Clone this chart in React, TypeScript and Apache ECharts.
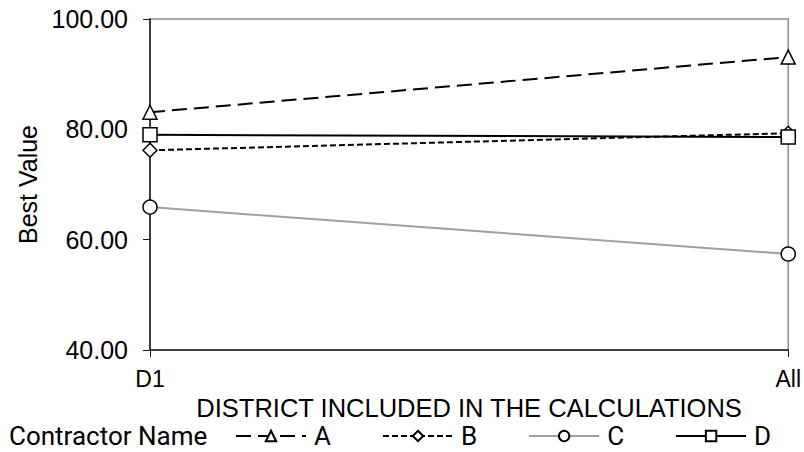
import React, { useEffect, useRef } from "react";
import * as echarts from "echarts";

// District options on the category axis
const districts = ["D1", "All"];

// Best value per contractor for each district option
const contractorA = [83.1, 93.1];
const contractorB = [76.2, 79.3];
const contractorC = [65.9, 57.4];
const contractorD = [79.0, 78.6];

const contractorNames = ["A", "B", "C", "D"];

const yMin = 40;
const yMax = 100;
const yStep = 20;

const AXIS_FONT = "'Liberation Sans', Arial, sans-serif";
const LEGEND_FONT = "Roboto, 'Noto Sans', sans-serif";

export default function App() {
  const ref = useRef<HTMLDivElement>(null);

  useEffect(() => {
    if (!ref.current) return;
    const chart = echarts.init(ref.current, undefined, { renderer: "svg" });

    const marker = {
      color: "#ffffff",
      borderColor: "#000000",
      borderWidth: 1.5,
    };

    const seriesData = [contractorA, contractorB, contractorC, contractorD];
    const symbols = ["triangle", "diamond", "circle", "rect"];
    const lineStyles: any[] = [
      { color: "#000000", width: 2, type: [15, 7] },
      { color: "#000000", width: 2, type: [6, 3] },
      { color: "#a0a0a0", width: 2, type: "solid" },
      { color: "#000000", width: 2, type: "solid" },
    ];

    chart.setOption({
      animation: false,
      backgroundColor: "#ffffff",
      grid: {
        left: 150,
        right: 14,
        top: 19,
        bottom: 102,
        show: true,
        borderColor: "#8c8c8c",
        borderWidth: 1.5,
        backgroundColor: "transparent",
      },
      graphic: [
        {
          type: "text",
          left: 9,
          top: 423,
          style: {
            text: "Contractor Name",
            font: `26px ${LEGEND_FONT}`,
            fill: "#000000",
          },
        },
      ],
      legend: {
        data: contractorNames,
        left: 235,
        top: 423,
        padding: 0,
        itemWidth: 70,
        itemHeight: 13,
        itemGap: 51,
        textStyle: {
          fontFamily: LEGEND_FONT,
          fontSize: 26,
          color: "#000000",
          padding: [0, 0, 0, 3],
        },
      },
      xAxis: {
        type: "category",
        data: districts,
        boundaryGap: false,
        name: "DISTRICT INCLUDED IN THE CALCULATIONS",
        nameLocation: "middle",
        nameGap: 44,
        nameTextStyle: {
          fontFamily: AXIS_FONT,
          fontSize: 25.5,
          color: "#000000",
        },
        axisLine: { lineStyle: { color: "#1a1a1a", width: 1.5 } },
        axisTick: { show: true, length: 7, alignWithLabel: true, lineStyle: { color: "#1a1a1a" } },
        axisLabel: {
          margin: 17,
          fontFamily: AXIS_FONT,
          fontSize: 23,
          color: "#000000",
        },
        splitLine: { show: false },
      },
      yAxis: {
        type: "value",
        min: yMin,
        max: yMax,
        interval: yStep,
        name: "Best Value",
        nameLocation: "middle",
        nameGap: 108,
        nameTextStyle: {
          fontFamily: AXIS_FONT,
          fontSize: 25,
          color: "#000000",
        },
        axisLine: { show: true, lineStyle: { color: "#1a1a1a", width: 1.5 } },
        axisTick: { show: true, length: 7, lineStyle: { color: "#1a1a1a" } },
        axisLabel: {
          margin: 22,
          fontFamily: AXIS_FONT,
          fontSize: 25,
          color: "#000000",
          formatter: (v: number) => v.toFixed(2),
        },
        splitLine: { show: false },
      },
      series: contractorNames.map((name, i) => ({
        name,
        type: "line",
        data: seriesData[i],
        symbol: symbols[i],
        symbolSize: 14,
        showAllSymbol: true,
        itemStyle: marker,
        lineStyle: lineStyles[i],
        z: 2 + i,
      })),
    });

    return () => chart.dispose();
  }, []);

  return (
    <div
      ref={ref}
      style={{ position: "absolute", left: 0, top: 0, width: 804, height: 452 }}
    />
  );
}
